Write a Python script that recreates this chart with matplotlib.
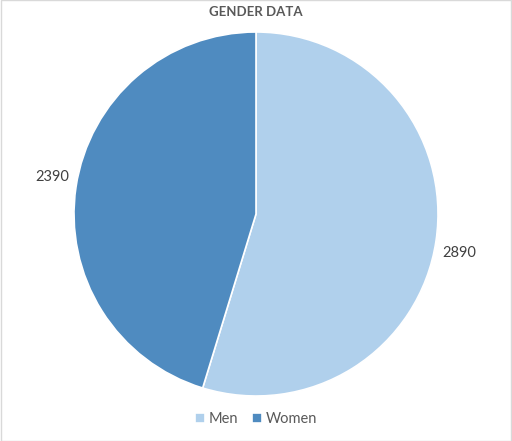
import matplotlib
matplotlib.use("Agg")
import matplotlib.pyplot as plt
from matplotlib.patches import Rectangle

categories = ["Men", "Women"]
values = [2890, 2390]
colors = ["#B0D0EC", "#4F8BC0"]
title = "GENDER DATA"

plt.rcParams['font.family'] = ['Lato', 'DejaVu Sans']

W, H = 512, 441
fig = plt.figure(figsize=(W / 100, H / 100), dpi=100)
cx, cy, r = 256, 214, 182
ax = fig.add_axes([(cx - r) / W, (H - cy - r) / H, 2 * r / W, 2 * r / H])
wedges, texts = ax.pie(values, colors=colors, startangle=90, counterclock=False,
                       labels=[str(v) for v in values], labeldistance=1.13,
                       wedgeprops=dict(edgecolor="white", linewidth=1.2),
                       textprops=dict(fontsize=10.5, color="#404040"))
offsets = [-0.045, 0.035]
for t, dy in zip(texts, offsets):
    t.set_ha("center")
    t.set_va("center")
    x, y = t.get_position()
    t.set_position((x, y + dy))
ax.set_xlim(-1, 1)
ax.set_ylim(-1, 1)
ax.set_aspect("equal")

fig.text(256 / W, 1 - 12 / H, title, ha="center", va="center", fontsize=9.5,
         fontweight="bold", color="#595959")

fig.legend(wedges, categories, loc="center", bbox_to_anchor=(0.5, 1 - 419 / H),
           ncol=2, frameon=False, fontsize=10.5, handlelength=0.65, handleheight=0.65,
           handletextpad=0.25, columnspacing=1.0, labelcolor="#595959")

fig.patches.append(Rectangle((0.001, 0.001), 0.998, 0.998, transform=fig.transFigure,
                             fill=False, edgecolor="#D9D9D9", linewidth=1))
fig.savefig("out.png", dpi=100)
